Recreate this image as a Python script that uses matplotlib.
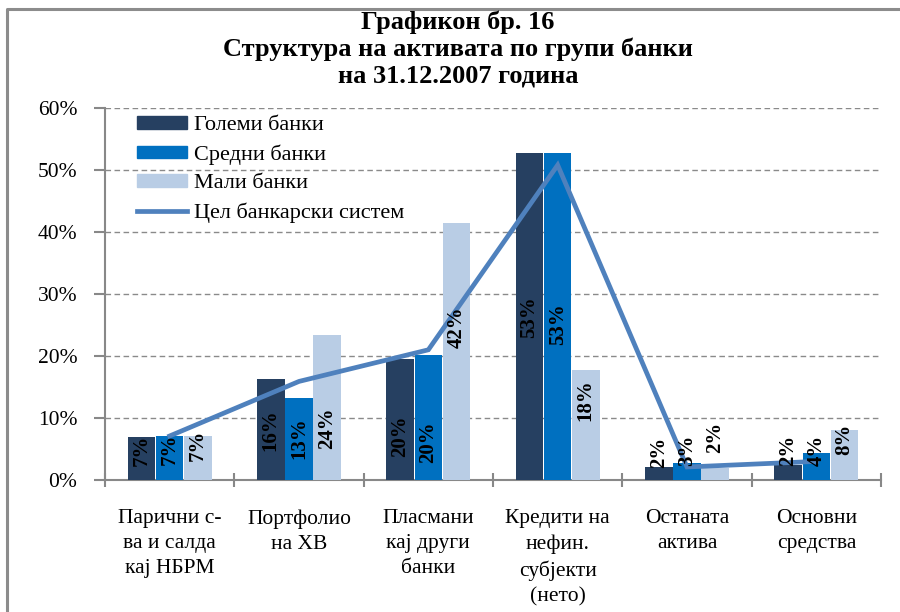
import matplotlib
matplotlib.use("Agg")
import matplotlib.pyplot as plt
import numpy as np
from matplotlib.patches import Patch
from matplotlib.lines import Line2D

categories = ["Парични с-\nва и салда\nкај НБРМ", "Портфолио\nна ХВ", "Пласмани\nкај други\nбанки",
              "Кредити на\nнефин.\nсубјекти\n(нето)", "Останата\nактива", "Основни\nсредства"]
golemi = [7.0, 16.3, 19.5, 52.7, 2.1, 2.4]
sredni = [7.1, 13.3, 20.2, 52.7, 2.8, 4.3]
mali = [7.1, 23.4, 41.4, 17.7, 1.9, 8.1]
cel = [7.1, 15.9, 21.0, 50.8, 2.1, 3.0]
lab_golemi = ["7%", "16%", "20%", "53%", "2%", "2%"]
lab_sredni = ["7%", "13%", "20%", "53%", "3%", "4%"]
lab_mali = ["7%", "24%", "42%", "18%", "2%", "8%"]
series_names = ["Големи банки", "Средни банки", "Мали банки", "Цел банкарски систем"]
title_lines = ["Графикон бр. 16", "Структура на активата по групи банки", "на 31.12.2007 година"]

# label centre positions (data units)
pos_golemi = [4.8, 8.1, 7.1, 26.3, 4.5, 4.8]
pos_sredni = [5.0, 6.8, 6.1, 25.2, 4.8, 4.8]
pos_mali = [5.6, 8.4, 24.7, 12.9, 6.9, 6.5]

plt.rcParams['font.family'] = ['Liberation Serif', 'DejaVu Serif']

c_dark = "#264061"
c_mid = "#0070C0"
c_light = "#B9CDE5"
c_line = "#4F81BD"

fig = plt.figure(figsize=(9, 6.12), dpi=100)
W, H = 900, 612
ax = fig.add_axes([105 / W, 1 - 480 / H, 776 / W, 372 / H])

x = np.arange(len(categories))
bw = 0.212
off = 0.218
ax.bar(x - off, golemi, bw, color=c_dark, zorder=3)
ax.bar(x, sredni, bw, color=c_mid, zorder=3)
ax.bar(x + off, mali, bw, color=c_light, zorder=3)
ax.plot(x, cel, color=c_line, lw=3.4, zorder=5, solid_joinstyle='miter')

for xs, labs, poss in [(x - off, lab_golemi, pos_golemi), (x, lab_sredni, pos_sredni), (x + off, lab_mali, pos_mali)]:
    for xi, l, p in zip(xs, labs, poss):
        ax.text(xi, p, l, rotation=90, ha='center', va='center', fontsize=15,
                fontweight='bold', color='black', zorder=6)

ax.set_xlim(-0.5, len(categories) - 0.5)
ax.set_ylim(0, 60)
ax.set_yticks(np.arange(0, 61, 10))
ax.set_yticklabels([f"{v}%" for v in range(0, 61, 10)], fontsize=15.5)
ax.yaxis.grid(True, linestyle=(0, (4, 2.5)), color='#8a8a8a', lw=1, zorder=0)
ax.set_axisbelow(True)
ax.set_xticks(x)
ax.set_xticklabels(categories, fontsize=15.5, linespacing=1.42, va='top')
ax.tick_params(axis='x', length=0, pad=21)
ax.set_xticks(np.arange(-0.5, len(categories), 1), minor=True)
ax.tick_params(axis='x', which='minor', length=10, direction='inout', color='#888888', width=1.5)
ax.tick_params(axis='y', length=8, color='#888888', width=1.5, pad=12)
for s in ['top', 'right']:
    ax.spines[s].set_visible(False)
for s in ['left', 'bottom']:
    ax.spines[s].set_color('#888888')
    ax.spines[s].set_linewidth(1.5)

handles = [Patch(color=c_dark), Patch(color=c_mid), Patch(color=c_light),
           Line2D([0], [0], color=c_line, lw=3.4)]
leg = fig.legend(handles, series_names, loc='upper left', bbox_to_anchor=(128 / W, 1 - 107 / H),
                 frameon=False, fontsize=16, handlelength=2.25, handleheight=0.5,
                 labelspacing=0.42, handletextpad=0.3, borderaxespad=0)

title_y = [22, 49, 76]
for t, yy in zip(title_lines, title_y):
    fig.text(458 / W, 1 - yy / H, t, ha='center', va='center', fontsize=19, fontweight='bold')

fig.add_artist(Line2D([7 / W, 7 / W, 1], [0, 1 - 9 / H, 1 - 9 / H], color='#8c8c8c', lw=2.2,
                      transform=fig.transFigure))

fig.savefig("out.png", dpi=100)
